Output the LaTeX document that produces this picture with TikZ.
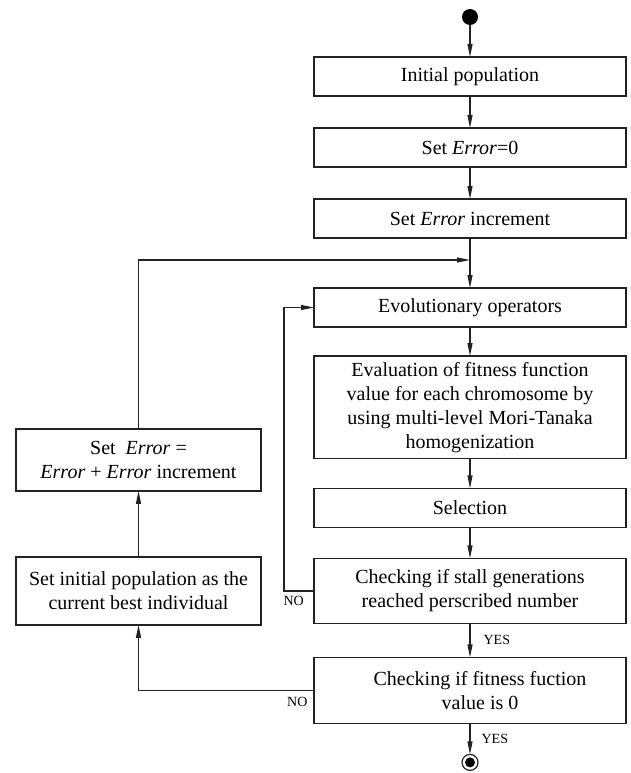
\documentclass[tikz,border=0pt]{standalone}
\usepackage{fontspec}
\setmainfont{Liberation Serif}
\usepackage{tikz}
\usetikzlibrary{positioning,arrows.meta,calc}
\definecolor{cLine}{HTML}{222222}

\begin{document}
\begin{tikzpicture}[
  x=1pt,y=1pt,
  font=\fontsize{20}{24}\selectfont,
  line width=1.2pt,
  box/.style={draw=cLine,minimum width=312pt,minimum height=39pt,inner sep=6pt,align=center,outer sep=0pt},
  sidebox/.style={draw=cLine,minimum width=245pt,inner sep=6pt,align=center,outer sep=0pt},
  startpt/.style={circle,fill=black,minimum size=16pt,inner sep=0pt,outer sep=0pt},
  endpt/.style={circle,draw=cLine,minimum size=16pt,inner sep=0pt,outer sep=0pt,
    path picture={\fill[black] (path picture bounding box.center) circle (5pt);}},
  lbl/.style={font=\fontsize{14}{16}\selectfont,inner sep=1pt},
  ar/.style={-{Stealth[length=13pt,width=5pt,inset=0pt]},draw=cLine}
]
\useasboundingbox (0,0) rectangle (631,-773);
\node[startpt] (start) at (470,-17) {};
\node[box,below=32pt of start] (init) {Initial population};
\node[box,below=32pt of init] (err0) {Set \textit{Error}=0};
\node[box,below=32pt of err0] (incr) {Set \textit{Error} increment};
% --- evolution loop ---
\node[box,below=50pt of incr] (evol) {Evolutionary operators};
\node[box,below=29pt of evol] (eval)
     {Evaluation of fitness function\\ value for each chromosome by\\ using multi-level Mori-Tanaka\\ homogenization};
\node[box,below=30pt of eval] (sel) {Selection};
\node[box,below=31pt of sel,minimum height=65pt] (stall)
     {Checking if stall generations\\ reached perscribed number};
\node[box,below=34pt of stall,minimum height=66pt] (fit)
     {\hspace*{20pt}Checking if fitness fuction\\ \hspace*{20pt}value is 0};
\node[endpt,below=31pt of fit] (stop) {};
% --- error update on the left ---
\node[sidebox,left=53pt of stall,minimum height=68pt] (setinit)
     {Set initial population as the\\ current best individual};
\node[sidebox,above=66pt of setinit,minimum height=62pt] (errupd)
     {Set~~\textit{Error} =\\ \textit{Error} + \textit{Error} increment};

\coordinate (join) at ($(incr.south)+(0,-22)$);

\draw[ar] (start) -- (init);
\draw[ar] (init) -- (err0);
\draw[ar] (err0) -- (incr);
\draw[ar] (incr) -- (evol);
\draw[ar] (evol) -- (eval);
\draw[ar] (eval) -- (sel);
\draw[ar] (sel) -- (stall);
\draw[ar] (stall) -- node[lbl,right=12pt] {YES} (fit);
\draw[ar] (fit) -- node[lbl,right=10pt] {YES} (stop);
\draw[ar] (stall.west) -- ++(-30,0) node[lbl,below right=4pt and -2pt] {NO} |- (evol.west);
\draw[ar] (fit.west) node[lbl,below left=5pt and 5pt] {NO} -| (setinit.south);
\draw[ar] (setinit) -- (errupd);
\draw[ar] (errupd.north) |- (join);
\end{tikzpicture}
\end{document}
